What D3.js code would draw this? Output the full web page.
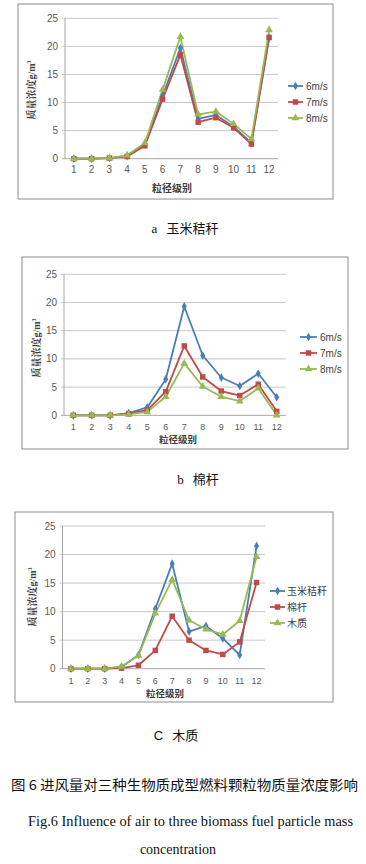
<!DOCTYPE html>
<html><head><meta charset="utf-8">
<script src="https://cdn.jsdelivr.net/npm/d3@7"></script>
<style>body{margin:0;background:#fff}svg{display:block}</style>
</head><body>
<svg id="c" width="366" height="864"></svg>
<script>
const categories = ["1","2","3","4","5","6","7","8","9","10","11","12"];
const yTicks = [0,5,10,15,20,25];

const seriesNamesAB = ["6m/s","7m/s","8m/s"];
const seriesNamesC = ["玉米秸秆","棉杆","木质"];

const a6 = [0,0,0.1,0.5,2.5,11.2,19.7,7.1,7.8,5.7,2.8,21.5];
const a7 = [0,0,0.1,0.4,2.3,10.6,18.5,6.5,7.3,5.5,2.6,21.6];
const a8 = [0,0,0.1,0.6,2.8,12.3,21.7,7.9,8.4,6.2,3.5,22.9];

const b6 = [0,0,0,0.4,1.4,6.4,19.3,10.6,6.7,5.2,7.4,3.2];
const b7 = [0,0,0,0.3,0.9,4.2,12.3,6.8,4.3,3.5,5.5,0.7];
const b8 = [0,0,0,0.15,0.6,3.3,9.2,5.1,3.3,2.5,4.8,0.0];

const cCorn = [0,0,0,0.3,2.4,10.5,18.4,6.5,7.5,5.3,2.4,21.5];
const cCotton = [0,0,0,0.1,0.6,3.2,9.2,5.0,3.2,2.5,4.7,15.1];
const cWood = [0,0,0,0.4,2.3,9.7,15.6,8.5,6.9,6.0,8.4,19.6];

const colors = ["#4a7ebb","#be4b48","#98b954"];
const markers = ["diamond","square","triangle"];

const svg = d3.select("#c");
svg.append("rect").attr("width",366).attr("height",864).attr("fill","#fff");

const sans = "'Liberation Sans','DejaVu Sans',sans-serif";
const serif = "'Liberation Serif','DejaVu Serif',serif";
const cjkSerif = "'Noto Serif CJK SC','Noto Sans CJK SC',serif";
const cjk = "'Noto Sans CJK SC',sans-serif";

function panel(cfg){
  const g = svg.append("g");
  g.append("rect").attr("x",cfg.frame[0]).attr("y",cfg.frame[1])
    .attr("width",cfg.frame[2]).attr("height",cfg.frame[3])
    .attr("fill","#fff").attr("stroke","#8c8c8c").attr("stroke-width",1);
  const x = d3.scaleBand().domain(categories).range([cfg.left,cfg.right]);
  const y = d3.scaleLinear().domain([0,25]).range([cfg.bottom,cfg.top]);
  const cx = c => x(c)+x.bandwidth()/2;
  g.selectAll(".grid").data(yTicks).join("line")
    .attr("x1",cfg.left-3).attr("x2",cfg.right)
    .attr("y1",d=>y(d)).attr("y2",d=>y(d))
    .attr("stroke",d=>d===0?"#a6a6a6":"#c8c8c8").attr("stroke-width",1);
  g.append("line").attr("x1",cfg.left).attr("x2",cfg.left)
    .attr("y1",cfg.top).attr("y2",cfg.bottom).attr("stroke","#a6a6a6");
  g.selectAll(".yl").data(yTicks).join("text")
    .attr("x",cfg.left-7).attr("y",d=>y(d)+3.5).attr("text-anchor","end")
    .attr("font-family",sans).attr("font-size",10).attr("fill","#595959")
    .text(d=>d);
  g.selectAll(".xl").data(categories).join("text")
    .attr("x",d=>cx(d)).attr("y",cfg.xLabelY).attr("text-anchor","middle")
    .attr("font-family",sans).attr("font-size",cfg.xFont).attr("fill","#595959")
    .text(d=>d);
  g.append("text").attr("x",cfg.xTitle[0]).attr("y",cfg.xTitle[1])
    .attr("text-anchor","middle").attr("font-family",cjk).attr("font-weight","bold")
    .attr("font-size",cfg.xTitleFont).attr("fill","#404040").text("粒径级别");
  const yt = g.append("text").attr("transform",`translate(${cfg.yTitle[0]},${cfg.yTitle[1]}) rotate(-90)`)
    .attr("text-anchor","middle").attr("font-family",cjkSerif).attr("font-weight","bold")
    .attr("font-size",10).attr("fill","#404040");
  yt.append("tspan").text("质量浓度");
  yt.append("tspan").attr("font-family",serif).text("g/m");
  yt.append("tspan").attr("font-family",serif).attr("font-size",6).attr("dy",-4).text("3");
  const line = d3.line().x((d,i)=>cx(categories[i])).y(d=>y(d));
  cfg.series.forEach((s,k)=>{
    g.append("path").datum(s).attr("d",line).attr("fill","none")
      .attr("stroke",colors[k]).attr("stroke-width",1.8).attr("stroke-linejoin","round");
  });
  cfg.series.forEach((s,k)=>{
    drawMarkers(g, s.map((v,i)=>[cx(categories[i]),y(v)]), k);
  });
  cfg.names.forEach((n,k)=>{
    const ly = cfg.legend[2]+k*16;
    g.append("line").attr("x1",cfg.legend[0]).attr("x2",cfg.legend[0]+cfg.legendLen)
      .attr("y1",ly).attr("y2",ly).attr("stroke",colors[k]).attr("stroke-width",1.8);
    drawMarkers(g,[[cfg.legend[0]+cfg.legendLen/2,ly]],k);
    g.append("text").attr("x",cfg.legend[1]).attr("y",ly+3.5)
      .attr("font-family",cfg.cjkLegend?cjk:sans).attr("font-size",10).attr("fill","#404040")
      .text(n);
  });
}

function drawMarkers(g, pts, k){
  const sym = {diamond:d3.symbolDiamond,square:d3.symbolSquare,triangle:d3.symbolTriangle}[markers[k]];
  const size = {diamond:22,square:30,triangle:26}[markers[k]];
  g.selectAll(null).data(pts).join("path")
    .attr("transform",d=>`translate(${d[0]},${d[1]})`)
    .attr("d",d3.symbol().type(sym).size(size))
    .attr("fill",colors[k]);
}

panel({frame:[18,4,315,195], left:65, right:278, top:18.3, bottom:158.7,
  xLabelY:173, xFont:10, xTitle:[172,192], xTitleFont:10, yTitle:[35,90], legend:[288,306,86], legendLen:15,
  series:[a6,a7,a8], names:seriesNamesAB});
panel({frame:[22,257,326,192], left:64, right:286, top:274.3, bottom:415.3,
  xLabelY:429.5, xFont:9, xTitle:[178,443], xTitleFont:9.5, yTitle:[40,348], legend:[300,320,337], legendLen:17,
  series:[b6,b7,b8], names:seriesNamesAB});
panel({frame:[15,512,318,190], left:62.5, right:265, top:526, bottom:668.7,
  xLabelY:683.5, xFont:9, xTitle:[165,697], xTitleFont:9.5, yTitle:[36,597], legend:[270,287,591], legendLen:15,
  series:[cCorn,cCotton,cWood], names:seriesNamesC, cjkLegend:true});

function cap(x,y,parts){
  const t = svg.append("text").attr("x",x).attr("y",y).attr("text-anchor","middle").attr("fill","#111");
  parts.forEach(p=>t.append("tspan").attr("font-family",p[1]).attr("font-size",p[2]).attr("dx",p[3]||0).text(p[0]));
  return t;
}
cap(185,233,[["a",serif,13],["玉米秸秆",cjk,13,9]]);
cap(198,484,[["b",serif,13],["棉杆",cjk,13,9]]);
cap(176,740,[["C",sans,13],["木质",cjk,13,9]]);

svg.append("text").attr("x",11).attr("y",790).attr("font-family",cjk).attr("font-size",13.5)
  .attr("textLength",347).attr("lengthAdjust","spacingAndGlyphs").attr("fill","#111")
  .text("图 6 进风量对三种生物质成型燃料颗粒物质量浓度影响");
svg.append("text").attr("x",28).attr("y",826).attr("font-family",serif).attr("font-size",14)
  .attr("textLength",325).attr("lengthAdjust","spacingAndGlyphs").attr("fill","#111")
  .text("Fig.6 Influence of air to three biomass fuel particle mass");
svg.append("text").attr("x",178).attr("y",854).attr("text-anchor","middle").attr("font-family",serif).attr("font-size",14)
  .attr("fill","#111").text("concentration");
</script>
</body></html>
